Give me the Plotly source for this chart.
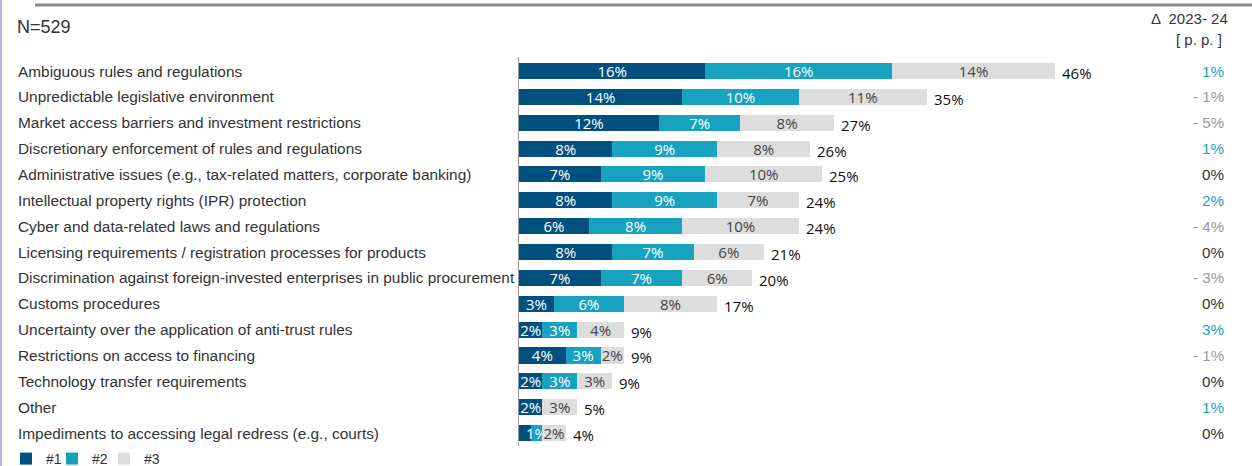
import plotly.graph_objects as go

# Survey data: share of respondents ranking each issue #1, #2, #3
categories = [
    "Ambiguous rules and regulations",
    "Unpredictable legislative environment",
    "Market access barriers and investment restrictions",
    "Discretionary enforcement of rules and regulations",
    "Administrative issues (e.g., tax-related matters, corporate banking)",
    "Intellectual property rights (IPR) protection",
    "Cyber and data-related laws and regulations",
    "Licensing requirements / registration processes for products",
    "Discrimination against foreign-invested enterprises in public procurement",
    "Customs procedures",
    "Uncertainty over the application of anti-trust rules",
    "Restrictions on access to financing",
    "Technology transfer requirements",
    "Other",
    "Impediments to accessing legal redress (e.g., courts)",
]
rank1 = [16, 14, 12, 8, 7, 8, 6, 8, 7, 3, 2, 4, 2, 2, 1]
rank2 = [16, 10, 7, 9, 9, 9, 8, 7, 7, 6, 3, 3, 3, 0, 1]
rank3 = [14, 11, 8, 8, 10, 7, 10, 6, 6, 8, 4, 2, 3, 3, 2]
totals = [46, 35, 27, 26, 25, 24, 24, 21, 20, 17, 9, 9, 9, 5, 4]
delta = [1, -1, -5, 1, 0, 2, -4, 0, -3, 0, 3, -1, 0, 1, 0]
sample_label = "N=529"

C1, C2, C3 = "#00507f", "#17a2c0", "#dddddd"
TEAL, GREY, DARK = "#1ba1c4", "#9a9a9a", "#333333"

W, H = 1252, 466
ml, mr, mt, mb = 519, 92, 57, 20
pw, ph = W - ml - mr, H - mt - mb


def px_x(p):
    return (p - ml) / pw


def px_y(p):
    return 1 + (mt - p) / ph


def seg_text(vals, hide_below=1):
    return [f"{v}%" if v >= hide_below else "" for v in vals]


fig = go.Figure()
bar_font = dict(family="Open Sans", size=15)
series = [
    ("#1", rank1, C1, "white", "legend"),
    ("#2", rank2, C2, "white", "legend2"),
    ("#3", rank3, C3, "#444444", "legend3"),
]
for name, vals, col, tcol, leg in series:
    txt = seg_text(vals)
    if name == "#1":
        txt[-1] = ""
    fig.add_trace(go.Bar(
        y=categories, x=vals, orientation="h", name=name, legend=leg,
        marker=dict(color=col, line=dict(width=0)),
        text=txt, textposition="inside", insidetextanchor="middle",
        constraintext="none", textangle=0,
        textfont=dict(color=tcol, **bar_font),
        hoverinfo="skip",
    ))

annotations = []
# totals after each bar
for cat, tot, a, b, c in zip(categories, totals, rank1, rank2, rank3):
    annotations.append(dict(
        x=a + b + c, y=cat, xref="x", yref="y", text=f"{tot}%",
        xanchor="left", xshift=5, yshift=-2, showarrow=False,
        font=dict(family="Open Sans", size=15, color="#111111"),
    ))
# category labels, left aligned
for cat in categories:
    annotations.append(dict(
        x=px_x(16), y=cat, xref="paper", yref="y", text=cat,
        xanchor="left", yanchor="middle", showarrow=False,
        font=dict(family="Liberation Sans", size=15.4, color=DARK),
    ))
# year-on-year change column
for cat, d in zip(categories, delta):
    col = TEAL if d > 0 else (GREY if d < 0 else DARK)
    txt = f"- {abs(d)}%" if d < 0 else f"{d}%"
    annotations.append(dict(
        x=px_x(1226), y=cat, xref="paper", yref="y", text=txt,
        xanchor="right", yanchor="middle", showarrow=False,
        font=dict(family="Liberation Sans", size=15.2, color=col),
    ))
annotations += [
    dict(x=px_x(1230), y=px_y(19), xref="paper", yref="paper",
         text="\u0394  2023- 24", xanchor="right", yanchor="middle",
         showarrow=False,
         font=dict(family="Liberation Sans", size=15, color=DARK)),
    dict(x=px_x(1224), y=px_y(40), xref="paper", yref="paper",
         text="[ p. p. ]", xanchor="right", yanchor="middle",
         showarrow=False,
         font=dict(family="Liberation Sans", size=15, color=DARK)),
    dict(x=px_x(15), y=px_y(27), xref="paper", yref="paper",
         text=sample_label, xanchor="left", yanchor="middle",
         showarrow=False,
         font=dict(family="Liberation Sans", size=18, color=DARK)),
]

shapes = [
    dict(type="line", xref="paper", yref="paper",
         x0=px_x(35), x1=px_x(W), y0=px_y(5), y1=px_y(5),
         line=dict(color="#8c8c8c", width=3)),
    dict(type="rect", xref="paper", yref="paper",
         x0=px_x(0), x1=px_x(2), y0=px_y(0), y1=px_y(H),
         line=dict(width=0), fillcolor="#b4b4dc"),
]


def legend_box(left_px):
    return dict(orientation="h", x=px_x(left_px), y=px_y(443),
                xanchor="left", yanchor="top",
                font=dict(family="Liberation Sans", size=14, color=DARK),
                bgcolor="rgba(0,0,0,0)")


fig.update_layout(
    width=W, height=H, barmode="stack", bargap=0.38,
    margin=dict(l=ml, r=mr, t=mt, b=mb, autoexpand=False),
    paper_bgcolor="white", plot_bgcolor="white",
    xaxis=dict(range=[0, 55], visible=False, fixedrange=True),
    yaxis=dict(autorange="reversed", showticklabels=False, showgrid=False,
               showline=True, linecolor="#9a9a9a", linewidth=1,
               ticks="", zeroline=False),
    showlegend=True,
    legend=legend_box(6),
    legend2=legend_box(52),
    legend3=legend_box(104),
    annotations=annotations, shapes=shapes,
    font=dict(family="Liberation Sans"),
)

fig.write_html("out.html")
